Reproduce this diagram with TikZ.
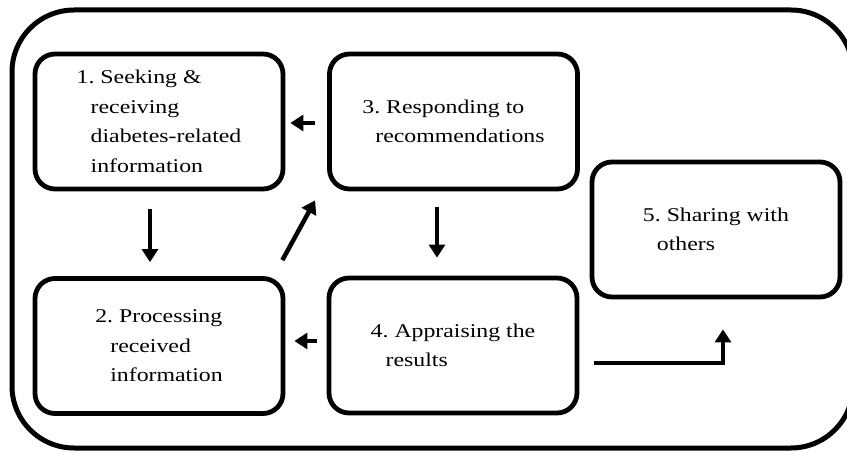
\documentclass[tikz,border=0pt]{standalone}
\usepackage{fontspec}
\setmainfont{Liberation Serif}[FakeStretch=1.22]
\usetikzlibrary{arrows.meta}

\begin{document}
\begin{tikzpicture}[x=1pt, y=-1pt,
    stagebox/.style={draw, line width=4.8pt, rounded corners=20pt,
      minimum width=248pt, minimum height=135pt, inner sep=0pt,
      align=left, font=\fontsize{19.5}{29.5}\selectfont\frenchspacing},
    frame/.style={draw, line width=5pt, rounded corners=62pt},
    flow/.style={line width=4.5pt, -{Triangle[length=13pt,width=16pt]}}]

  \useasboundingbox (0,0) rectangle (847,452);

  % outer frame (its right side runs past the page edge)
  \draw[frame] (12,10) rectangle (853,448);

  % the five stages
  \node[stagebox] (b1) at (159,121.5)
    {1. Seeking \&\\ \hspace*{14pt}receiving\\ \hspace*{14pt}diabetes-related\\ \hspace*{14pt}information};
  \node[stagebox] (b3) at (453.5,121.5)
    {3. Responding to\\ \hspace*{13pt}recommendations};
  \node[stagebox] (b2) at (159,346)
    {2. Processing\\ \hspace*{15pt}received\\ \hspace*{15pt}information};
  \node[stagebox] (b4) at (453,345.5)
    {4. Appraising the\\ \hspace*{15pt}results};
  \node[stagebox] (b5) at (716,229.5)
    {5. Sharing with\\ \hspace*{14pt}others};

  % connectors
  \draw[flow] ([xshift=-12pt,yshift=-1.5pt]b3.west) -- ([xshift=5pt,yshift=-1.5pt]b1.east);
  \draw[flow] ([xshift=-9pt,yshift=-18pt]b1.south) -- ([xshift=-9pt,yshift=14pt]b2.north);
  \draw[flow] ([xshift=-3pt,yshift=16pt]b2.north east) -- ([xshift=-12pt,yshift=-9pt]b3.south west);
  \draw[flow] ([xshift=-16.5pt,yshift=-16pt]b3.south) -- ([xshift=-16pt,yshift=18pt]b4.north);
  \draw[flow] ([xshift=-10pt,yshift=4.5pt]b4.west) -- ([xshift=9pt,yshift=5pt]b2.east);
  \draw[flow] ([xshift=15pt,yshift=-17.5pt]b4.east) -| ([xshift=7pt,yshift=-30pt]b5.south);
\end{tikzpicture}
\end{document}
